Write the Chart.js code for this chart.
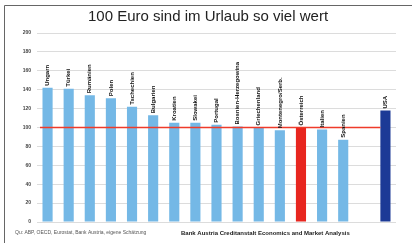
<!DOCTYPE html>
<html><head><meta charset="utf-8">
<script src="https://cdn.jsdelivr.net/npm/chart.js@4"></script>
<style>html,body{margin:0;padding:0;background:#fff;}#c{display:block;}</style>
</head><body>
<canvas id="c" width="412" height="243"></canvas>
<script>
const titleText = "100 Euro sind im Urlaub so viel wert";
const countries = ["Ungarn","Türkei","Rumänien","Polen","Tschechien","Bulgarien","Kroatien","Slowakei","Portugal","Bosnien-Herzegowina","Griechenland","Montenegro/Serb.","Österreich","Italien","Spanien","","USA"];
const values = [142,141,134,131,122,113,105,105,103,101,100,97,100,98,87,null,118];
const barColors = ["#74b8e6","#74b8e6","#74b8e6","#74b8e6","#74b8e6","#74b8e6","#74b8e6","#74b8e6","#74b8e6","#74b8e6","#74b8e6","#74b8e6","#e8261f","#74b8e6","#74b8e6","#74b8e6","#1c3a96"];
const yTicks = [0,20,40,60,80,100,120,140,160,180,200];
const refValue = 100;
const sourceText = "Qu: ABP, OECD, Eurostat, Bank Austria, eigene Schätzung";
const creditText = "Bank Austria Creditanstalt Economics and Market Analysis";

const decor = {
  id: 'decor',
  beforeDraw(chart) {
    const ctx = chart.ctx;
    ctx.save();
    ctx.fillStyle = '#fff';
    ctx.fillRect(0, 0, chart.width, chart.height);
    ctx.strokeStyle = '#666';
    ctx.lineWidth = 1;
    ctx.beginPath();
    ctx.moveTo(4.5, 243); ctx.lineTo(4.5, 5.5); ctx.lineTo(412, 5.5);
    ctx.stroke();
    ctx.fillStyle = '#222';
    ctx.font = '15px "Liberation Sans", Arial, sans-serif';
    ctx.textAlign = 'center';
    ctx.textBaseline = 'middle';
    ctx.fillText(titleText, 208, 17);
    ctx.fillStyle = '#555';
    ctx.font = '5px "Liberation Sans", Arial, sans-serif';
    ctx.textAlign = 'left';
    ctx.fillText(sourceText, 15, 233);
    ctx.fillStyle = '#222';
    ctx.font = 'bold 6px "Liberation Sans", Arial, sans-serif';
    ctx.fillText(creditText, 181, 233);
    ctx.restore();
  },
  afterDatasetsDraw(chart) {
    const ctx = chart.ctx;
    const y = chart.scales.y;
    const meta = chart.getDatasetMeta(0);
    const area = chart.chartArea;
    ctx.save();
    const last = meta.data[meta.data.length - 1];
    const yp = y.getPixelForValue(refValue);
    ctx.strokeStyle = '#ef3b2a';
    ctx.lineWidth = 1.3;
    ctx.beginPath();
    ctx.moveTo(area.left + 3, yp);
    ctx.lineTo(last.x - last.width / 2, yp);
    ctx.stroke();
    ctx.fillStyle = '#111';
    ctx.font = 'bold 6px "Liberation Sans", Arial, sans-serif';
    ctx.textAlign = 'left';
    ctx.textBaseline = 'middle';
    meta.data.forEach((bar, i) => {
      if (values[i] == null || !countries[i]) return;
      ctx.save();
      ctx.translate(bar.x, bar.y - 2);
      ctx.rotate(-Math.PI / 2);
      ctx.fillText(countries[i], 0, 0);
      ctx.restore();
    });
    ctx.restore();
  }
};

new Chart(document.getElementById('c'), {
  type: 'bar',
  data: {
    labels: countries,
    datasets: [{
      data: values,
      backgroundColor: barColors,
      borderWidth: 0,
      barPercentage: 0.48,
      categoryPercentage: 1
    }]
  },
  options: {
    responsive: false,
    animation: false,
    devicePixelRatio: 1,
    layout: { padding: { left: 0, right: 16, top: 33, bottom: 21 } },
    plugins: { legend: { display: false }, title: { display: false }, tooltip: { enabled: false } },
    scales: {
      x: { display: false },
      y: {
        min: 0, max: 200,
        afterBuildTicks(scale) { scale.ticks = yTicks.map(v => ({ value: v })); },
        afterFit(scale) { scale.width = 37; },
        grid: { color: '#dcdcdc', lineWidth: 1, drawTicks: false },
        border: { display: false },
        ticks: {
          padding: 6,
          color: '#444',
          font: { size: 5, family: '"Liberation Sans", Arial, sans-serif', weight: 'bold' }
        }
      }
    }
  },
  plugins: [decor]
});
</script>
</body></html>
